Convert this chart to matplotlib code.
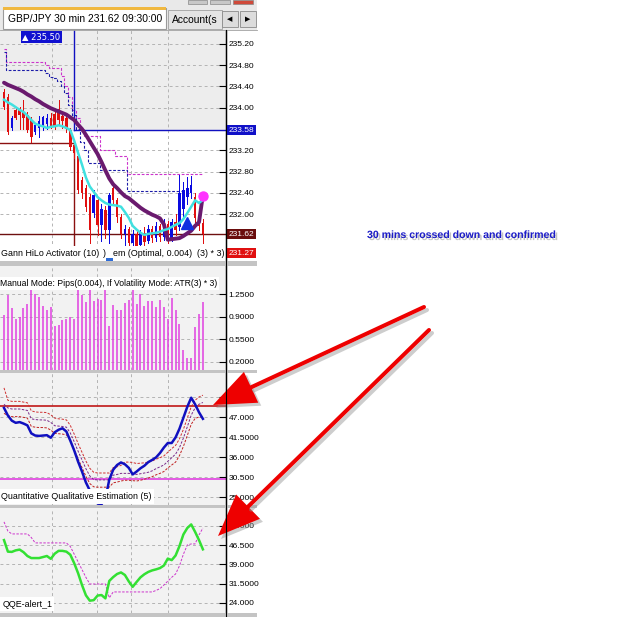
import numpy as np
import matplotlib
matplotlib.use("Agg")
import matplotlib.pyplot as plt
from matplotlib.patches import Rectangle, Polygon
import matplotlib.patheffects as pe

plt.rcParams["font.family"] = ["Liberation Sans", "DejaVu Sans"]

W, H = 625, 617

# ---------------- data ----------------
n_bars = 52
opens = [234.30, 234.20, 233.62, 233.96, 233.96, 233.92, 233.87, 233.77, 233.55, 233.62,
         233.65, 233.70, 233.80, 233.88, 233.98, 233.85, 233.80, 233.58, 233.30, 233.10,
         232.64, 232.49, 232.32, 232.02, 232.27, 231.80, 232.08, 231.70, 232.49, 232.27,
         231.95, 231.62, 231.72, 231.45, 231.62, 231.42, 231.65, 231.50, 231.72, 231.55,
         231.78, 231.58, 231.82, 231.55, 231.85, 231.76, 232.10, 232.32, 232.40, 232.32,
         231.95, 231.84]
highs = [234.35, 234.25, 233.85, 234.00, 234.02, 234.15, 233.92, 233.82, 233.72, 233.85,
         233.85, 233.88, 233.90, 233.95, 234.15, 233.90, 233.86, 233.62, 233.35, 233.15,
         232.70, 232.55, 232.38, 232.45, 232.30, 232.20, 232.15, 232.40, 232.55, 232.30,
         232.00, 231.80, 231.75, 231.70, 231.68, 231.70, 231.75, 231.80, 231.78, 231.85,
         231.82, 231.90, 231.88, 231.90, 232.00, 232.74, 232.60, 232.70, 232.72, 232.40,
         232.05, 231.90]
lows = [233.98, 233.50, 233.58, 233.78, 233.60, 233.60, 233.55, 233.36, 233.50, 233.45,
        233.58, 233.60, 233.62, 233.60, 233.68, 233.62, 233.55, 233.20, 233.05, 232.40,
        232.30, 232.05, 231.45, 231.95, 231.60, 231.50, 231.55, 231.45, 232.20, 231.85,
        231.55, 231.40, 231.35, 231.35, 231.30, 231.38, 231.40, 231.45, 231.48, 231.50,
        231.50, 231.52, 231.45, 231.50, 231.60, 231.70, 231.95, 232.20, 232.30, 231.85,
        231.70, 231.46]
closes = [234.02, 233.55, 233.81, 233.81, 233.86, 233.80, 233.58, 233.45, 233.68, 233.75,
          233.82, 233.80, 233.65, 233.66, 233.77, 233.75, 233.60, 233.26, 233.15, 232.46,
          232.40, 232.14, 231.70, 232.36, 231.80, 232.10, 231.70, 232.36, 232.27, 231.95,
          231.62, 231.72, 231.45, 231.62, 231.40, 231.65, 231.48, 231.72, 231.55, 231.78,
          231.58, 231.82, 231.55, 231.85, 231.70, 232.40, 232.45, 232.49, 232.55, 231.93,
          231.78, 231.62]

purple_ma = [234.47, 234.43, 234.40, 234.37, 234.34, 234.30, 234.25, 234.21, 234.16, 234.12,
             234.07, 234.03, 233.99, 233.96, 233.93, 233.90, 233.87, 233.82, 233.77, 233.68,
             233.60, 233.49, 233.37, 233.25, 233.13, 232.98, 232.82, 232.67, 232.56, 232.49,
             232.41, 232.34, 232.30, 232.24, 232.18, 232.12, 232.07, 232.03, 231.99, 231.96,
             231.92, 231.81, 231.52, 231.53, 231.54, 231.55, 231.59, 231.64, 231.69, 231.78,
             231.85, 232.36]
cyan_ma = [234.15, 234.10, 234.06, 234.01, 233.96, 233.92, 233.85, 233.77, 233.70, 233.67,
           233.65, 233.62, 233.64, 233.65, 233.67, 233.65, 233.62, 233.58, 233.38, 233.15,
           232.93, 232.69, 232.52, 232.42, 232.32, 232.26, 232.21, 232.18, 232.17, 232.16,
           232.14, 232.04, 231.93, 231.78, 231.71, 231.65, 231.61, 231.63, 231.64, 231.65,
           231.67, 231.70, 231.72, 231.76, 231.80, 231.83, 231.91, 232.02, 232.14, 232.26,
           232.21, 232.27]
hilo_magenta = [235.10, 234.86, 234.86, 234.86, 234.86, 234.86, 234.86, 234.86, 234.86, 234.86,
                234.86, 234.80, 234.75, 234.75, 234.75, 234.60, 234.40, 234.20, 233.95, 233.80,
                233.60, 233.47, 233.47, 233.47, 233.47, 233.21, 233.21, 233.21, 233.21, 233.09,
                233.09, 233.09, 232.76, 232.76, 232.76, 232.76, 232.76, 232.76, 232.76, 232.76,
                232.76, 232.76, 232.76, 232.76, 232.76, 232.76, 232.76, 232.76, 232.76, 232.76,
                232.76, 232.76]
hilo_blue = [235.05, 234.71, 234.71, 234.71, 234.71, 234.71, 234.71, 234.71, 234.71, 234.71,
             234.71, 234.65, 234.58, 234.55, 234.50, 234.40, 234.28, 234.05, 233.87, 233.60,
             233.35, 233.20, 232.96, 232.96, 232.96, 232.83, 232.83, 232.83, 232.83, 232.83,
             232.83, 232.83, 232.44, 232.44, 232.44, 232.44, 232.44, 232.44, 232.44, 232.44,
             232.44, 232.44, 232.44, 232.44, 232.44, 232.44, np.nan, np.nan, np.nan, np.nan,
             np.nan, np.nan]
buy_bar, buy_price = 47, 231.84
dot_bar, dot_price = 51, 232.34
stop_bar = 18
stop_price, last_price, low_price, high_mark = 233.34, 231.62, 231.27, 233.58
price_ticks = [235.20, 234.80, 234.40, 234.00, 233.20, 232.80, 232.40, 232.00]

hist_vals = [0.92, 1.23, 1.04, 0.87, 0.90, 1.04, 1.09, 1.35, 1.26, 1.21, 1.06, 1.00, 1.05,
             0.75, 0.77, 0.85, 0.87, 0.89, 0.87, 1.35, 1.23, 1.13, 1.35, 1.15, 1.18, 1.16,
             1.35, 0.76, 1.08, 1.00, 1.00, 1.11, 1.16, 1.35, 1.09, 1.25, 1.06, 1.14, 1.14,
             1.05, 1.16, 1.05, 0.86, 1.19, 1.00, 0.78, 0.38, 0.25, 0.26, 0.74, 0.94, 1.13]
hist_ticks = [1.25, 0.90, 0.55, 0.20]
hist_labels = ["1.2500", "0.9000", "0.5500", "0.2000"]

qqe_line = [49.5, 47.4, 46.0, 45.4, 45.6, 45.2, 44.7, 42.5, 41.9, 41.8, 41.9, 42.0, 41.3,
            42.8, 43.5, 43.9, 43.0, 40.5, 37.8, 34.7, 32.0, 29.0, 26.8, 24.8, 23.2, 23.0,
            24.5, 29.8, 32.5, 33.8, 34.5, 34.0, 33.0, 31.2, 32.0, 32.9, 33.6, 34.6, 35.2,
            35.9, 37.1, 38.6, 39.85, 39.85, 41.4, 43.8, 46.8, 49.8, 52.3, 50.5, 48.3, 46.5]
qqe_mid = [50.5, 49.5, 49.2, 49.2, 49.2, 49.0, 48.8, 46.5, 46.3, 46.2, 46.2, 46.1, 45.5,
           44.6, 44.5, 44.4, 44.2, 42.6, 40.2, 37.6, 35.2, 32.8, 30.8, 29.8, 29.7, 29.7,
           29.7, 29.7, 31.0, 31.2, 31.5, 31.5, 31.5, 31.4, 31.2, 31.4, 31.6, 31.8, 32.2,
           32.8, 33.3, 33.8, 34.8, 35.8, 36.8, 38.6, 41.2, 44.3, 47.5, 49.5, 50.5, 51.0]
qqe_up = [55.0, 51.6, 51.3, 51.3, 51.3, 51.1, 50.9, 48.7, 48.4, 48.3, 48.3, 48.2, 47.6,
          46.7, 46.5, 46.4, 46.2, 44.7, 42.3, 39.7, 37.3, 34.9, 32.9, 31.8, 31.6, 31.6,
          31.6, 31.6, 33.1, 33.3, 33.7, 34.6, 34.6, 34.5, 34.2, 34.3, 34.4, 34.6, 34.9,
          35.4, 35.8, 36.3, 37.3, 38.3, 39.2, 41.0, 43.6, 46.7, 49.8, 51.6, 52.5, 53.0]
qqe_lo = [48.0, 47.4, 47.1, 47.1, 47.1, 46.9, 46.7, 44.4, 44.2, 44.1, 44.1, 44.0, 43.4,
          42.5, 42.4, 42.3, 42.1, 40.5, 38.1, 35.5, 33.1, 30.7, 28.7, 27.8, 27.7, 27.7,
          27.7, 27.7, 28.9, 29.1, 29.4, 29.6, 29.6, 29.5, 29.4, 29.6, 29.9, 30.2, 30.6,
          31.1, 31.5, 32.0, 33.0, 33.8, 34.6, 36.4, 38.9, 41.9, 45.0, 46.6, 47.0, 47.0]
qqe_ticks = [52.5, 47.0, 41.5, 36.0, 30.5, 25.0]
qqe_labels = ["52.500", "47.000", "41.5000", "36.000", "30.500", "25.000"]
qqe_upper_level, qqe_lower_level = 50.0, 30.0

alert_line = [48.5, 44.0, 43.9, 44.5, 44.8, 43.8, 42.3, 41.5, 41.5, 41.5, 41.9, 42.3, 41.2,
              43.2, 44.3, 44.3, 44.0, 42.8, 39.5, 35.6, 31.0, 27.0, 24.9, 25.1, 26.9, 27.1,
              25.8, 32.6, 34.1, 35.3, 35.9, 34.9, 32.4, 30.3, 32.2, 34.0, 35.2, 36.1, 36.7,
              37.1, 37.6, 38.6, 41.3, 40.7, 42.5, 46.2, 50.7, 53.2, 54.6, 51.7, 48.5, 44.9]
alert_trail = [55.6, 52.0, 50.9, 50.9, 50.9, 50.9, 50.9, 49.5, 47.4, 47.4, 47.4, 47.4, 47.4,
               47.4, 47.4, 47.4, 47.4, 46.0, 43.0, 40.0, 37.0, 34.0, 31.4, 31.4, 31.4, 31.4,
               31.4, 26.0, 28.3, 28.3, 28.3, 28.3, 28.3, 28.3, 28.3, 28.3, 28.3, 28.3, 28.3,
               28.9, 29.6, 31.0, 32.5, 34.0, 35.3, 38.5, 43.0, 46.6, 47.0, 47.0, 50.5, 53.2]
alert_ticks = [54.0, 46.5, 39.0, 31.5, 24.0]
alert_labels = ["54.000", "46.500", "39.000", "31.5000", "24.000"]

grid_bars = [12.3, 23.9, 32.6, 42.1]

# ---------------- figure ----------------
fig = plt.figure(figsize=(W / 100, H / 100), dpi=100, facecolor="white")
x = np.arange(n_bars)
XLIM = (-4 / 3.9, 222 / 3.9)
GRID = "#b4b4b4"


def panel(y0, y1, x0=0, x1=226):
    return fig.add_axes([x0 / W, 1 - y1 / H, (x1 - x0) / W, (y1 - y0) / H])


def style(ax, ylim, ticks, labels, bg="#f2f2f2"):
    ax.set_xlim(*XLIM)
    ax.set_ylim(*ylim)
    ax.set_facecolor(bg)
    for s in ("left", "top", "bottom"):
        ax.spines[s].set_visible(False)
    ax.spines["right"].set_linewidth(1.0)
    ax.yaxis.tick_right()
    ax.set_yticks(ticks, labels)
    ax.set_xticks([])
    ax.tick_params(axis="y", direction="in", length=5, width=0.8, labelsize=6, pad=2)
    for t in ticks:
        ax.axhline(t, color=GRID, ls=(0, (3, 3)), lw=0.7, zorder=0)
    for g in grid_bars:
        ax.axvline(g, color=GRID, ls=(0, (3, 3)), lw=0.7, zorder=0)


# --- price panel ---
ax1 = panel(30, 261)
style(ax1, (231.12, 235.46), price_ticks, [f"{t:.2f}" for t in price_ticks], bg="white")
ax1.axhspan(high_mark, 236, color="#ededed", zorder=-1)
ax1.plot(x, hilo_magenta, color="#cc33cc", lw=0.8, ls=(0, (2.5, 1.5)), drawstyle="steps-mid")
ax1.plot(x, hilo_blue, color="#1c1ca8", lw=0.8, ls=(0, (2.5, 1.5)), drawstyle="steps-mid")
ax1.plot([stop_bar, XLIM[1]], [high_mark, high_mark], color="#1010c0", lw=1.0)
ax1.plot([stop_bar, stop_bar], [high_mark, 236], color="#1010c0", lw=1.0)
ax1.plot([XLIM[0], stop_bar], [stop_price, stop_price], color="#8b1010", lw=1.0)
ax1.plot([stop_bar, stop_bar], [231.0, stop_price], color="#8b1010", lw=1.0)
ax1.axhline(last_price, color="#6e1010", lw=1.0)

up = np.array(closes) >= np.array(opens)
cols = np.where(up, "#0a0ae0", "#e01010")
ax1.vlines(x, lows, highs, colors=cols, lw=0.7, zorder=3, antialiased=False)
body = np.maximum(np.abs(np.array(closes) - np.array(opens)), 0.01)
ax1.bar(x, body, bottom=np.minimum(opens, closes), width=0.62, color=cols, zorder=3)

ax1.plot(x, purple_ma, color="#6a1a6e", lw=2.8, zorder=4, solid_capstyle="round")
ax1.plot(x, cyan_ma, color="#40e0e0", lw=1.8, zorder=5)
ax1.plot(buy_bar, buy_price, marker="^", color="#1030e0", ms=8, zorder=6)
ax1.plot(dot_bar, dot_price, marker="o", color="#ff33ff", ms=6.5, zorder=6)

ytr = ax1.get_yaxis_transform()
for val, fc in ((high_mark, "#1010c8"), (last_price, "#6a0c0c"), (low_price, "#e01010")):
    ax1.text(1.012, val, f"{val:.2f}", transform=ytr, color="white", fontsize=6,
             va="center", ha="left",
             bbox=dict(boxstyle="square,pad=0.18", fc=fc, ec="none"), clip_on=False)
ax1.text(0.098, 0.97, "\u25b2 235.50", transform=ax1.transAxes, fontsize=6,
         color="white", va="center", ha="left", family=["DejaVu Sans"],
         bbox=dict(boxstyle="square,pad=0.15", fc="#1010d0", ec="none"), zorder=7)

# --- histogram panel ---
ax2 = panel(266, 370)
style(ax2, (0.071, 1.688), hist_ticks, hist_labels)
ax2.vlines(x, 0.071, hist_vals, colors="#e040e0", lw=1.1, zorder=3)
ax2.text(0.0, 0.83, "Manual Mode: Pips(0.004), If Volatility Mode: ATR(3) * 3)",
         transform=ax2.transAxes, fontsize=6.2, va="center", ha="left",
         bbox=dict(boxstyle="square,pad=0.25", fc="white", ec="none"), zorder=7)

# --- QQE panel ---
ax3 = panel(373, 505)
style(ax3, (22.8, 59.1), qqe_ticks, qqe_labels)
ax3.axhline(qqe_upper_level, color="#c01818", lw=1.2, zorder=2)
ax3.axhline(qqe_lower_level, color="#e040e0", lw=1.2, zorder=2)
ax3.plot(x, qqe_up, color="#d03030", lw=0.7, ls=(0, (2.5, 1.5)), zorder=3)
ax3.plot(x, qqe_mid, color="#7a2a8a", lw=0.7, ls=(0, (2.5, 1.5)), zorder=3)
ax3.plot(x, qqe_lo, color="#c02020", lw=0.7, ls=(0, (2.5, 1.5)), zorder=3)
ax3.plot(x, qqe_line, color="#1010c0", lw=1.8, zorder=4)
ax3.text(0.005, 0.065, "Quantitative Qualitative Estimation (5)", transform=ax3.transAxes,
         fontsize=6.4, va="center", ha="left",
         bbox=dict(boxstyle="square,pad=0.3", fc="white", ec="none"), zorder=7)

# --- QQE alert panel ---
ax4 = panel(508, 613)
style(ax4, (20.1, 61.0), alert_ticks, alert_labels)
ax4.plot(x, alert_trail, color="#cc33cc", lw=0.7, ls=(0, (2.5, 1.5)), zorder=3)
ax4.plot(x, alert_line, color="#33e033", lw=1.8, zorder=4)
ax4.text(0.01, 0.085, "QQE-alert_1", transform=ax4.transAxes, fontsize=6.4,
         va="center", ha="left",
         bbox=dict(boxstyle="square,pad=0.25", fc="white", ec="none"), zorder=7)

# ---------------- chrome / annotations in pixel space ----------------
ov = fig.add_axes([0, 0, 1, 1], zorder=20)
ov.set_xlim(0, W)
ov.set_ylim(H, 0)
ov.axis("off")
ov.patch.set_alpha(0)

# price-panel legend strip
ov.add_patch(Rectangle((0, 246), 222, 15, fc="white", ec="none"))
for px, piece in ((1, "Gann HiLo Activator (10)"), (103, ")"),
                  (113, "em (Optimal, 0.004)"), (197, "(3) * 3)")):
    ov.text(px, 253.5, piece, fontsize=6.4, va="center", ha="left")
ov.add_patch(Rectangle((106, 258), 7, 2.5, fc="#2a6ad8", ec="none"))

# tab strip
ov.add_patch(Rectangle((0, 0), 257, 30, fc="#e9e9e9", ec="none"))
for bx, bw, fc in ((188, 19, "#c8c8c8"), (210, 20, "#c8c8c8"), (233, 20, "#d04a3a")):
    ov.add_patch(Rectangle((bx, 0), bw, 4, fc=fc, ec="#888888", lw=0.5))
ov.add_patch(Rectangle((3, 8), 163, 21, fc="white", ec="#9a9a9a", lw=0.8))
ov.add_patch(Rectangle((3, 7), 163, 2.5, fc="#f0b840", ec="none"))
ov.text(8, 19, "GBP/JPY 30 min 231.62 09:30:00", fontsize=7.4, va="center", ha="left")
ov.add_patch(Rectangle((168, 10), 54, 19, fc="#e4e4e4", ec="#a0a0a0", lw=0.6))
ov.text(172, 20, "Account(s", fontsize=7.4, va="center", ha="left", clip_on=True)
for bx, glyph in ((222, "\u25c0"), (240, "\u25b6")):
    ov.add_patch(Rectangle((bx, 11), 16, 16, fc="#dcdcdc", ec="#8a8a8a", lw=0.6))
    ov.text(bx + 8, 19, glyph, fontsize=5, va="center", ha="center", family=["DejaVu Sans"])
ov.plot([0, 257], [29.5, 29.5], color="#a0a0a0", lw=0.6)

# panel separators
for y0, y1 in ((261, 266), (370, 373), (505, 508), (613, 617)):
    ov.add_patch(Rectangle((0, y0), 257, y1 - y0, fc="#c4c4c4", ec="none"))
ov.plot([226, 226], [30, 617], color="black", lw=0.8)

# callout text
ov.text(367, 235, "30 mins crossed down and confirmed", fontsize=7.6, fontweight="bold",
        color="#1c1cc8", va="center", ha="left",
        path_effects=[pe.withSimplePatchShadow(offset=(1.5, -1.5), shadow_rgbFace="#888888",
                                               alpha=0.5)])

# red arrows
for (sx, sy), (tx, ty) in (((424, 307), (213, 405)), ((429, 330), (218, 536))):
    u = np.array([tx - sx, ty - sy], float)
    u /= np.hypot(*u)
    nrm = np.array([-u[1], u[0]])
    base = np.array([tx, ty]) - 42 * u
    for off, col, a in ((3, "#909090", 0.45), (0, "#ee0000", 1.0)):
        ov.plot([sx + off, base[0] + off], [sy + off, base[1] + off], color=col, lw=2.9,
                alpha=a, solid_capstyle="round")
        head = np.array([[tx, ty], base + 17 * nrm, base - 17 * nrm]) + off
        ov.add_patch(Polygon(head, closed=True, fc=col, ec="none", alpha=a))

fig.savefig("out.png", dpi=100)
